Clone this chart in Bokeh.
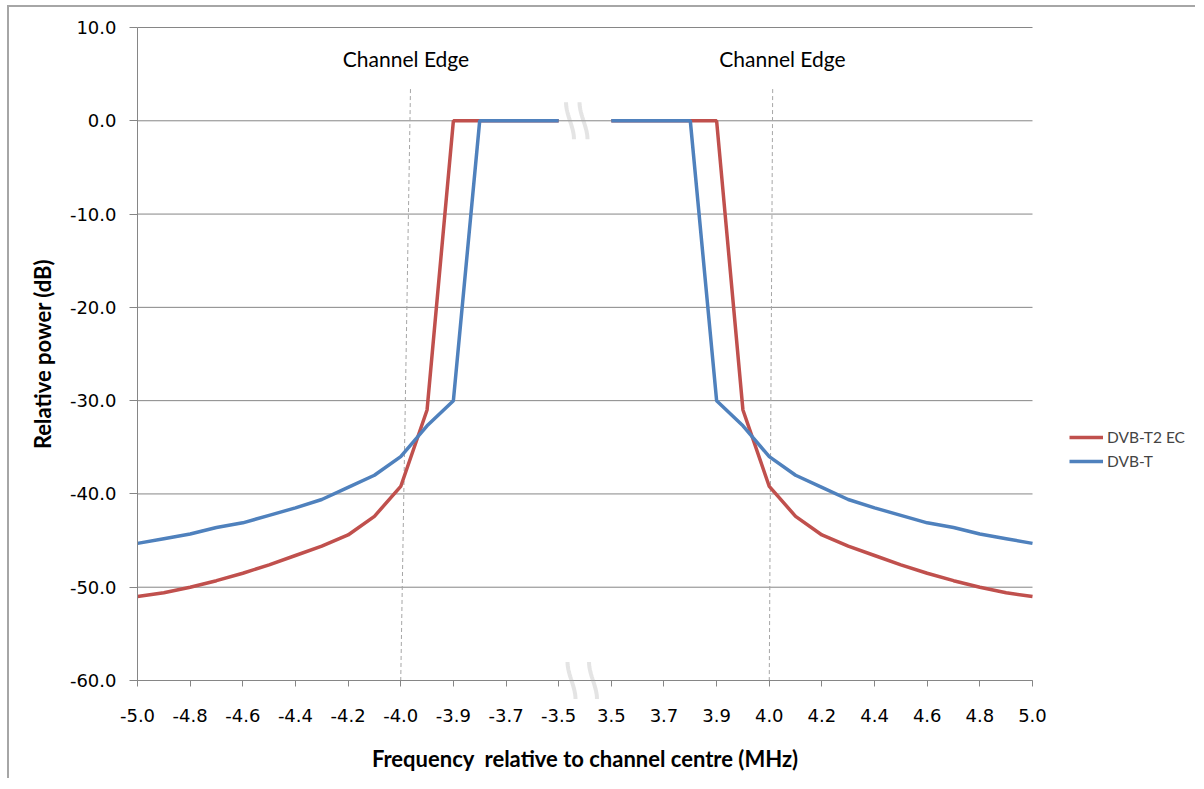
import numpy as np
from bokeh.plotting import figure
from bokeh.models import (Range1d, FixedTicker, PrintfTickFormatter, Legend, LegendItem,
                          Label, PolyAnnotation)
from bokeh.embed import file_html
from bokeh.resources import INLINE

# ---- data ----
freq_left = [-5.0, -4.9, -4.8, -4.7, -4.6, -4.5, -4.4, -4.3, -4.2, -4.1,
             -4.0, -3.95, -3.9, -3.8, -3.7, -3.6, -3.5]
freq_right = [3.5, 3.6, 3.7, 3.8, 3.9, 3.95, 4.0, 4.1, 4.2, 4.3,
              4.4, 4.5, 4.6, 4.7, 4.8, 4.9, 5.0]
t2ec_left = [-51.0, -50.6, -50.0, -49.3, -48.5, -47.6, -46.6, -45.6, -44.4, -42.4,
             -39.2, -31.0, 0.0, 0.0, 0.0, 0.0, 0.0]
t2ec_right = [0.0, 0.0, 0.0, 0.0, 0.0, -31.0, -39.2, -42.4, -44.4, -45.6,
              -46.6, -47.6, -48.5, -49.3, -50.0, -50.6, -51.0]
dvbt_left = [-45.3, -44.8, -44.3, -43.6, -43.1, -42.3, -41.5, -40.6, -39.3, -38.0,
             -36.0, -32.7, -30.0, 0.0, 0.0, 0.0, 0.0]
dvbt_right = [0.0, 0.0, 0.0, 0.0, -30.0, -32.7, -36.0, -38.0, -39.3, -40.6,
              -41.5, -42.3, -43.1, -43.6, -44.3, -44.8, -45.3]
y_ticks = [-60, -50, -40, -30, -20, -10, 0, 10]
series_names = ["DVB-T2 EC", "DVB-T"]
channel_edges = [-4.0, 4.0]

# category axis: left block, one empty break slot, right block
categories = freq_left + [None] + freq_right
idx = list(range(len(categories)))
t2ec = t2ec_left + [np.nan] + t2ec_right
dvbt = dvbt_left + [np.nan] + dvbt_right
tick_idx = [i for i in idx if i % 2 == 0 and categories[i] is not None]
tick_labels = {i: "%.1f" % categories[i] for i in tick_idx}
gap = categories.index(None)
x_last = len(categories) - 1
y_min, y_max = min(y_ticks), max(y_ticks)

W, H = 1188, 773
FRAME_W, FRAME_H = 895, 653          # visible plot area (axes box)
ML, MT = 128, 20                      # its offset inside the canvas
px_x = FRAME_W / x_last
px_y = FRAME_H / float(y_max - y_min)
# the Bokeh frame covers the whole canvas; axes are placed at fixed locations
x_start = -ML / px_x
x_end = x_last + (W - ML - FRAME_W) / px_x
y_start = y_min - (H - MT - FRAME_H) / px_y
y_end = y_max + MT / px_y

p = figure(width=W, height=H, output_backend="svg", toolbar_location=None,
           x_range=Range1d(x_start, x_end), y_range=Range1d(y_start, y_end),
           min_border_left=0, min_border_right=0, min_border_top=0,
           min_border_bottom=0, outline_line_color=None)
p.styles = {"border-left": "2px solid #A6A6A6", "border-top": "2px solid #A6A6A6",
            "margin-left": "7px", "margin-top": "5px"}

GRAY = "#868686"
TICKFONT = "DejaVu Sans"
TITLEFONT = "Lato"

p.xgrid.visible = False
p.ygrid.visible = False
p.segment(x0=[0] * len(y_ticks), y0=y_ticks, x1=[x_last] * len(y_ticks), y1=y_ticks,
          line_color=GRAY, line_width=1)

p.xaxis.ticker = FixedTicker(ticks=tick_idx)
p.xaxis.major_label_overrides = tick_labels
p.xaxis.fixed_location = y_min
p.xaxis.bounds = (0, x_last)
p.yaxis.ticker = FixedTicker(ticks=y_ticks)
p.yaxis.formatter = PrintfTickFormatter(format="%.1f")
p.yaxis.fixed_location = 0
p.yaxis.bounds = (y_min, y_max)
for ax in (p.xaxis, p.yaxis):
    ax.axis_line_color = GRAY
    ax.major_tick_line_color = GRAY
    ax.minor_tick_line_color = None
    ax.major_tick_in = 0
    ax.major_label_text_font = TICKFONT
    ax.major_label_text_font_size = "18px"
    ax.major_label_text_color = "#000000"
    ax.axis_label_text_font = TITLEFONT
    ax.axis_label_text_font_style = "bold"
    ax.axis_label_text_font_size = "22px"
    ax.axis_label_text_color = "#000000"
p.xaxis.major_tick_out = 6
p.yaxis.major_tick_out = 8
p.xaxis.major_label_standoff = 22
p.yaxis.major_label_standoff = 13
p.xaxis.axis_label = "Frequency\u00a0 relative to channel centre (MHz)"
p.yaxis.axis_label = "Relative power (dB)"
p.xaxis.axis_label_standoff = 20
p.yaxis.axis_label_standoff = 11

# channel edge dashed markers
def cat_index(f):
    return categories.index(f)

e0, e1 = cat_index(channel_edges[0]), cat_index(channel_edges[1])
p.segment(x0=[e0 + 0.37, e1 + 0.13], y0=[3.4, 3.4], x1=[e0, e1], y1=[y_min, y_min],
          line_color="#A6A6A6", line_width=1, line_dash="4 3")
p.add_layout(Label(x=e0 + 0.2, y=6.7, text="Channel Edge", text_align="center",
                   text_baseline="middle", text_font=TITLEFONT, text_font_size="21px",
                   text_color="#000000"))
p.add_layout(Label(x=e1 + 0.5, y=6.7, text="Channel Edge", text_align="center",
                   text_baseline="middle", text_font=TITLEFONT, text_font_size="21px",
                   text_color="#000000"))

r_red = p.line(idx, t2ec, line_color="#C0504D", line_width=3.5)
r_blue = p.line(idx, dvbt, line_color="#4F81BD", line_width=3.5)

# axis-break marks (decoration)
t = np.linspace(0, 1, 16)
def brk(cx_px, cy_val, w=8, h=37):
    dx = (w * (3 * t**2 - 2 * t**3) - w / 2) / px_x
    dy = (h / 2 - h * t) / px_y
    xs = list(gap + cx_px / px_x + dx)
    ys = list(cy_val + dy)
    return xs + xs[::-1], ys + ys[::-1]
for cx, cy in [(-15, 0), (-1.5, 0), (-13.5, y_min), (8, y_min)]:
    xs, ys = brk(cx, cy)
    p.add_layout(PolyAnnotation(xs=xs, ys=ys, fill_alpha=0, line_color="#A6A6A6",
                                line_width=4))

legend = Legend(items=[LegendItem(label=series_names[0], renderers=[r_red]),
                       LegendItem(label=series_names[1], renderers=[r_blue])],
                location=(ML + FRAME_W + 37, 309), orientation="vertical",
                border_line_color=None,
                background_fill_alpha=0, glyph_width=34, glyph_height=20,
                label_height=20, spacing=4, padding=8, margin=0, label_standoff=4,
                label_text_font=TITLEFONT, label_text_font_size="15.5px")
p.add_layout(legend, "center")

open("out.html", "w").write(file_html(p, INLINE))
